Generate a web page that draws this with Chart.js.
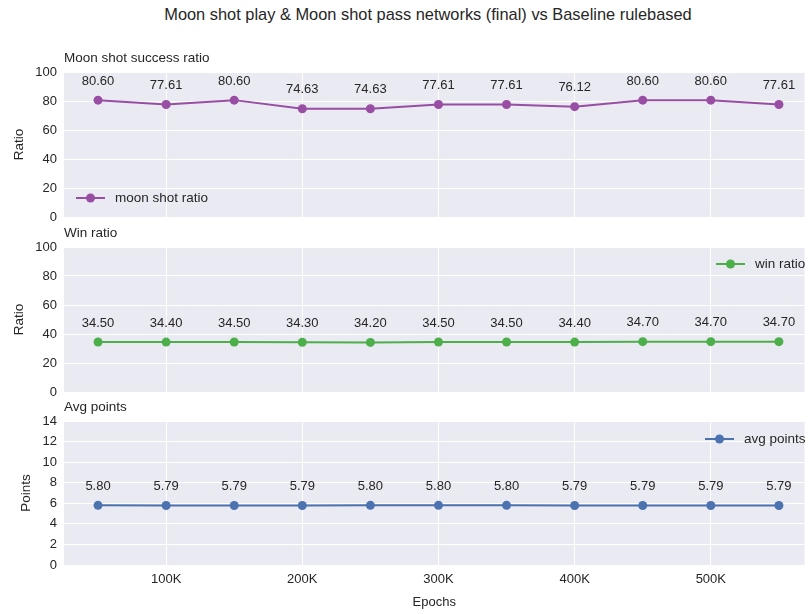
<!DOCTYPE html>
<html>
<head>
<meta charset="utf-8">
<script src="https://cdn.jsdelivr.net/npm/chart.js@4.4.1/dist/chart.umd.min.js"></script>
<style>
    body { margin: 0; background: #fff; width: 809px; height: 614px; overflow: hidden; position: relative; font-family: "Liberation Sans", Arial, sans-serif; }
    #titulo { position: absolute; top: 5px; left: 128px; width: 600px; text-align: center; font-size: 16.4px; color: #262626; white-space: nowrap; }
    .panel { position: absolute; left: 0; width: 809px; }
</style>
</head>
<body>
<div id="titulo">Moon shot play &amp; Moon shot pass networks (final) vs Baseline rulebased</div>
<div class="panel" style="top:0px;height:222px"><canvas id="graficoMoon"></canvas></div>
<div class="panel" style="top:222px;height:175px"><canvas id="graficoWin"></canvas></div>
<div class="panel" style="top:397px;height:217px"><canvas id="graficoPoints"></canvas></div>
<script>
// Datos
const epochs = [50000, 100000, 150000, 200000, 250000, 300000, 350000, 400000, 450000, 500000, 550000];
const xTicks = [100000, 200000, 300000, 400000, 500000];
const moonShotRatio = [80.60, 77.61, 80.60, 74.63, 74.63, 77.61, 77.61, 76.12, 80.60, 80.60, 77.61];
const winRatio = [34.50, 34.40, 34.50, 34.30, 34.20, 34.50, 34.50, 34.40, 34.70, 34.70, 34.70];
const avgPoints = [5.80, 5.79, 5.79, 5.79, 5.80, 5.80, 5.80, 5.79, 5.79, 5.79, 5.79];

const TEXTO = '#262626';
const FUENTE = '"Liberation Sans", Arial, sans-serif';

// fondo gris del area + titulo del subplot + etiquetas + leyenda
const estiloSeaborn = {
    id: 'estiloSeaborn',
    beforeDraw(chart) {
        const { ctx, chartArea } = chart;
        ctx.save();
        ctx.fillStyle = '#eaeaf2';
        ctx.fillRect(chartArea.left, chartArea.top, chartArea.right - chartArea.left, chartArea.bottom - chartArea.top);
        ctx.restore();
    },
    afterDatasetsDraw(chart, args, opts) {
        const { ctx, chartArea } = chart;
        ctx.save();
        ctx.fillStyle = TEXTO;
        ctx.font = '13.5px ' + FUENTE;
        ctx.textAlign = 'left';
        ctx.textBaseline = 'middle';
        ctx.fillText(opts.titulo, chartArea.left, chartArea.top - 14);

        // valores sobre cada punto
        ctx.font = '13px ' + FUENTE;
        ctx.textAlign = 'center';
        const ds = chart.data.datasets[0];
        chart.getDatasetMeta(0).data.forEach((pt, i) => {
            ctx.fillText(ds.data[i].y.toFixed(2), pt.x, pt.y - 19);
        });

        // leyenda
        const lx = opts.leyenda.x, ly = opts.leyenda.y;
        ctx.strokeStyle = ds.borderColor;
        ctx.lineWidth = 2;
        ctx.beginPath();
        ctx.moveTo(lx, ly);
        ctx.lineTo(lx + 29, ly);
        ctx.stroke();
        ctx.fillStyle = ds.borderColor;
        ctx.beginPath();
        ctx.arc(lx + 14.5, ly, 4.5, 0, Math.PI * 2);
        ctx.fill();
        ctx.fillStyle = TEXTO;
        ctx.font = '13.5px ' + FUENTE;
        ctx.textAlign = 'left';
        ctx.fillText(ds.label, lx + 39, ly);
        ctx.restore();
    }
};

function crearPanel(id, label, valores, color, cfg) {
    new Chart(document.getElementById(id), {
        type: 'line',
        data: {
            datasets: [{
                label: label,
                data: epochs.map((e, i) => ({ x: e, y: valores[i] })),
                borderColor: color,
                backgroundColor: color,
                borderWidth: 2,
                pointRadius: 4.5,
                pointHoverRadius: 4.5,
                pointBorderWidth: 0,
                tension: 0
            }]
        },
        options: {
            responsive: true,
            maintainAspectRatio: false,
            animation: false,
            layout: { padding: { top: cfg.padTop, bottom: cfg.padBottom, left: 0, right: 0 } },
            plugins: {
                legend: { display: false },
                tooltip: { enabled: false },
                estiloSeaborn: { titulo: cfg.titulo, leyenda: cfg.leyenda }
            },
            scales: {
                x: {
                    type: 'linear',
                    min: 25000,
                    max: 568800,
                    afterBuildTicks: scale => { scale.ticks = xTicks.map(v => ({ value: v })); },
                    afterFit: scale => {
                        scale.height = cfg.ejeX ? 49 : 0;
                        scale.paddingLeft = 0;
                        scale.paddingRight = 0;
                    },
                    grid: { color: '#ffffff', lineWidth: 1, drawTicks: false },
                    border: { display: false },
                    ticks: {
                        display: cfg.ejeX,
                        padding: 7,
                        color: TEXTO,
                        font: { family: FUENTE, size: 13 },
                        callback: v => (v / 1000) + 'K'
                    },
                    title: {
                        display: cfg.ejeX,
                        text: 'Epochs',
                        color: TEXTO,
                        font: { family: FUENTE, size: 13 },
                        padding: { top: 0, bottom: 4 }
                    }
                },
                y: {
                    min: 0,
                    max: cfg.yMax,
                    afterFit: scale => {
                        scale.width = 64;
                        scale.paddingTop = 0;
                        scale.paddingBottom = 0;
                    },
                    grid: { color: '#ffffff', lineWidth: 1, drawTicks: false },
                    border: { display: false },
                    ticks: {
                        stepSize: cfg.yStep,
                        padding: 7,
                        color: TEXTO,
                        font: { family: FUENTE, size: 13 }
                    },
                    title: {
                        display: true,
                        text: cfg.yTitulo,
                        color: TEXTO,
                        font: { family: FUENTE, size: 13.5 },
                        padding: { top: cfg.yTituloPad, bottom: 0 }
                    }
                }
            }
        },
        plugins: [estiloSeaborn]
    });
}

crearPanel('graficoMoon', 'moon shot ratio', moonShotRatio, '#984ea3', {
    titulo: 'Moon shot success ratio', yTitulo: 'Ratio', yTituloPad: 11,
    yMax: 100, yStep: 20, padTop: 72, padBottom: 5, ejeX: false,
    leyenda: { x: 76, y: 198 }
});
crearPanel('graficoWin', 'win ratio', winRatio, '#4daf4a', {
    titulo: 'Win ratio', yTitulo: 'Ratio', yTituloPad: 11,
    yMax: 100, yStep: 20, padTop: 25, padBottom: 5, ejeX: false,
    leyenda: { x: 716, y: 42 }
});
crearPanel('graficoPoints', 'avg points', avgPoints, '#4c72b0', {
    titulo: 'Avg points', yTitulo: 'Points', yTituloPad: 18,
    yMax: 14, yStep: 2, padTop: 24, padBottom: 0, ejeX: true,
    leyenda: { x: 705, y: 42 }
});
</script>
</body>
</html>
